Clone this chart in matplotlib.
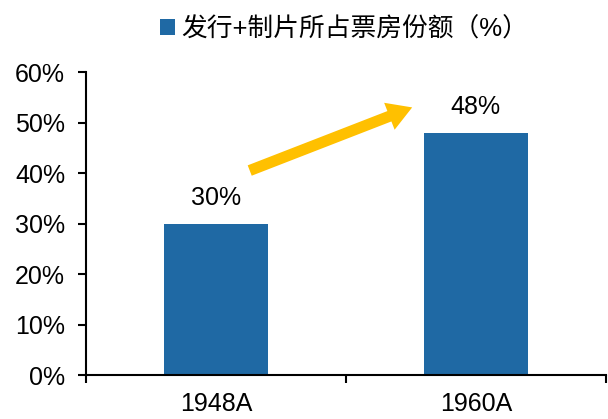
import matplotlib
matplotlib.use("Agg")
import matplotlib.pyplot as plt
from matplotlib.patches import FancyArrowPatch
from matplotlib.ticker import FuncFormatter, FixedLocator

plt.rcParams['font.family'] = ['Liberation Sans', 'Noto Sans CJK SC', 'DejaVu Sans']

# share of box office held by distribution + production
years = ['1948A', '1960A']
share = [0.30, 0.48]
series_name = '发行+制片所占票房份额（%）'

bar_color = '#1F69A4'
arrow_color = '#FFC000'

fig = plt.figure(figsize=(6.08, 4.19), dpi=100)
ax = fig.add_axes([0.1414, 0.105, 0.855, 0.723])

x = list(range(len(years)))
bars = ax.bar(x, share, width=0.4, color=bar_color, label=series_name)

# value labels above each bar
for xi, v in zip(x, share):
    ax.annotate(f'{v:.0%}', (xi, v), xytext=(0, 10), textcoords='offset points',
                ha='center', va='bottom', fontsize=18, color='#000000')

ax.set_xlim(-0.5, len(years) - 0.5)
ax.set_ylim(0, 0.6)
ax.set_yticks([i / 10 for i in range(7)])
ax.yaxis.set_major_formatter(FuncFormatter(lambda v, p: f'{v:.0%}'))

# category labels without marks, boundary ticks between categories
ax.set_xticks(x)
ax.set_xticklabels(years)
ax.tick_params(axis='x', which='major', length=0, pad=12, labelsize=18)
ax.xaxis.set_minor_locator(FixedLocator([i - 0.5 for i in range(len(years) + 1)]))
ax.tick_params(axis='x', which='minor', length=6, width=1.5, direction='out')
ax.tick_params(axis='y', length=6, width=1.5, direction='out', labelsize=18, pad=9)

for s in ['top', 'right']:
    ax.spines[s].set_visible(False)
for s in ['left', 'bottom']:
    ax.spines[s].set_linewidth(1.5)

# growth arrow between the two bars
arrow = FancyArrowPatch((0.12, 0.403), (0.765, 0.532),
                        arrowstyle='simple,head_width=2.6,head_length=2.2,tail_width=1.0',
                        mutation_scale=8, color=arrow_color, lw=0)
ax.add_patch(arrow)

fig.legend(handles=[bars], labels=[series_name], loc='upper center',
           bbox_to_anchor=(0.566, 1.015), frameon=False, fontsize=18.5,
           handlelength=0.55, handleheight=0.55, handletextpad=0.25)

fig.savefig('out.png', dpi=100)
